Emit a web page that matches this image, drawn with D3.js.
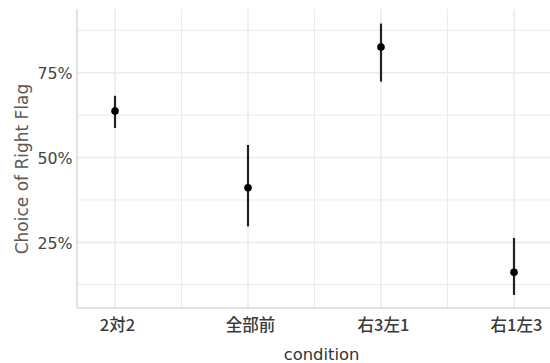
<!DOCTYPE html>
<html>
<head>
<meta charset="utf-8">
<script src="https://cdn.jsdelivr.net/npm/d3@7"></script>
<style>
	body { margin: 0; background: #fff; }
	text { font-family: "DejaVu Sans", sans-serif; }
</style>
</head>
<body>
<div id="graphic"></div>
<script>
// data
const conditions = ['2対2', '全部前', '右3左1', '右1左3'];
const means = [0.637, 0.411, 0.826, 0.162];
const lower = [0.587, 0.297, 0.724, 0.095];
const upper = [0.682, 0.537, 0.895, 0.263];
const yTicks = [0.25, 0.5, 0.75];
const yMinor = [0.125, 0.375, 0.625, 0.875];

const width = 550, height = 363;
const margin = { top: 9, right: 0, bottom: 55, left: 77 };

const svg = d3.select('#graphic').append('svg')
	.attr('width', width)
	.attr('height', height);

const x = d3.scalePoint()
	.domain(conditions)
	.range([115, 514]);

const y = d3.scaleLinear()
	.domain([0.0555, 0.935])
	.range([height - margin.bottom + 0.3, margin.top + 1]);

const step = x.step();
const gridCol = '#ebebeb';

// minor gridlines
svg.append('g').selectAll('line.ym')
	.data(yMinor).join('line')
	.attr('x1', margin.left).attr('x2', width)
	.attr('y1', d => y(d)).attr('y2', d => y(d))
	.attr('stroke', gridCol).attr('stroke-width', 1);

svg.append('g').selectAll('line.xm')
	.data(conditions.slice(1)).join('line')
	.attr('x1', d => x(d) - step / 2).attr('x2', d => x(d) - step / 2)
	.attr('y1', margin.top).attr('y2', height - margin.bottom)
	.attr('stroke', gridCol).attr('stroke-width', 1);

// major gridlines
svg.append('g').selectAll('line')
	.data(yTicks).join('line')
	.attr('x1', margin.left).attr('x2', width)
	.attr('y1', d => y(d)).attr('y2', d => y(d))
	.attr('stroke', gridCol).attr('stroke-width', 1.6);

svg.append('g').selectAll('line')
	.data(conditions).join('line')
	.attr('x1', d => x(d)).attr('x2', d => x(d))
	.attr('y1', margin.top).attr('y2', height - margin.bottom)
	.attr('stroke', gridCol).attr('stroke-width', 1.6);

// axis lines
svg.append('line')
	.attr('x1', margin.left).attr('x2', margin.left)
	.attr('y1', margin.top).attr('y2', height - margin.bottom)
	.attr('stroke', '#d9d9d9').attr('stroke-width', 1.5);
svg.append('line')
	.attr('x1', margin.left).attr('x2', width)
	.attr('y1', height - margin.bottom).attr('y2', height - margin.bottom)
	.attr('stroke', '#d9d9d9').attr('stroke-width', 1.5);

// y axis
const yAxis = svg.append('g')
	.attr('transform', `translate(${margin.left},0)`)
	.call(d3.axisLeft(y).tickValues(yTicks).tickFormat(d3.format('.0%')).tickSize(0).tickPadding(4.5));
yAxis.select('.domain').remove();
yAxis.selectAll('text')
	.attr('fill', '#444')
	.attr('dy', '0.38em')
	.style('font-family', '"DejaVu Sans", sans-serif')
	.style('font-size', '15.8px');

// x axis
const xAxis = svg.append('g')
	.attr('transform', `translate(0,${height - margin.bottom})`)
	.call(d3.axisBottom(x).tickSize(0));
xAxis.select('.domain').remove();
xAxis.selectAll('text')
	.attr('fill', '#3a3a3a')
	.attr('y', 23)
	.attr('dy', null)
	.attr('dx', 2)
	.style('font-family', '"Noto Sans CJK JP", sans-serif')
	.style('font-weight', 500)
	.style('font-size', '16.5px');

// titles
svg.append('text')
	.attr('x', 321.6)
	.attr('y', 360)
	.attr('text-anchor', 'middle')
	.attr('fill', '#333')
	.style('font-size', '16.4px')
	.text('condition');

svg.append('text')
	.attr('transform', 'translate(27.7,169) rotate(-90)')
	.attr('text-anchor', 'middle')
	.attr('fill', '#5a5a5a')
	.style('font-size', '17px')
	.text('Choice of Right Flag');

// error bars and points
svg.append('g').selectAll('line')
	.data(conditions).join('line')
	.attr('x1', d => x(d)).attr('x2', d => x(d))
	.attr('y1', (d, i) => y(lower[i])).attr('y2', (d, i) => y(upper[i]))
	.attr('stroke', '#222').attr('stroke-width', 2.2);

svg.append('g').selectAll('circle')
	.data(conditions).join('circle')
	.attr('cx', d => x(d))
	.attr('cy', (d, i) => y(means[i]))
	.attr('r', 3.8)
	.attr('fill', '#000');
</script>
</body>
</html>
